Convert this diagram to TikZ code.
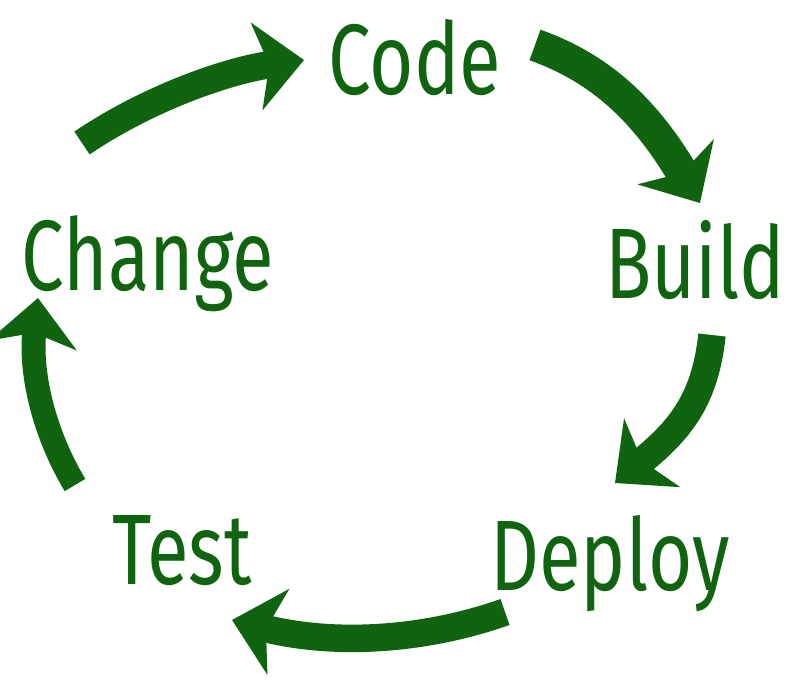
\documentclass[tikz,border=0pt]{standalone}
\usepackage{fontspec}
\usepackage{tikz}
\usetikzlibrary{
    positioning,
    arrows.meta,
    calc
}
\newfontfamily\handfont[FakeStretch=0.76]{Fira Sans}
\definecolor{LeafGreen}{RGB}{16,100,16}

\begin{document}
\begin{tikzpicture}[
            x=0.02cm, y=-0.02cm,
            >=Stealth,
            step label/.style={text=LeafGreen, inner sep=0pt, anchor=base, font=\handfont\fontsize{57}{57}\selectfont},
            cycle arrow/.style={draw=LeafGreen, line width=0.55cm, -{Stealth[length=0.95cm, width=1.75cm, inset=0.25cm]}},
        ]
        \useasboundingbox (0,0) rectangle (799,687);

        % ===== STAGES =====
        \node[step label] (code) at (415,94) {Code};
        \node[step label] (build) at (695,298) {Build};
        \node[step label] (deploy) at (610,590) {Deploy};
        \node[step label] (test) at (182,584) {Test};
        \node[step label] (change) at (148,290) {Change};

        % ===== ARROW ENDS =====
        \coordinate (change-out) at (82,143);
        \coordinate (code-in) at (304,60);
        \coordinate (code-out) at (535,45);
        \coordinate (build-in) at (700,203);
        \coordinate (build-out) at (712,335);
        \coordinate (deploy-in) at (615,483);
        \coordinate (deploy-out) at (505,612);
        \coordinate (test-in) at (232,620);
        \coordinate (test-out) at (75,485);
        \coordinate (change-in) at (38,298);

        % ===== CYCLE =====
        \draw[cycle arrow] (change-out) .. controls (150,97) and (230,70) .. (code-in);
        \draw[cycle arrow, line width=0.65cm] (code-out) .. controls (600,68) and (645,110) .. (build-in);
        \draw[cycle arrow] (build-out) .. controls (705,400) and (680,430) .. (deploy-in);
        \draw[cycle arrow] (deploy-out) .. controls (420,642) and (330,645) .. (test-in);
        \draw[cycle arrow, line width=0.48cm] (test-out) .. controls (42,430) and (30,370) .. (change-in);
        \end{tikzpicture}
\end{document}
